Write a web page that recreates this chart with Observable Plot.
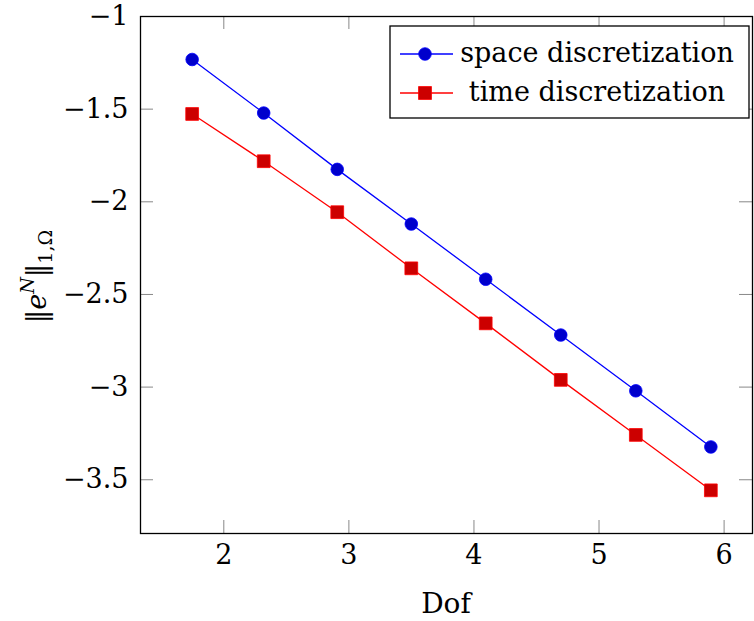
<!DOCTYPE html>
<html>
<head>
<meta charset="utf-8">
<script src="https://cdn.jsdelivr.net/npm/d3@7"></script>
<script src="https://cdn.jsdelivr.net/npm/@observablehq/plot@0.6"></script>
<style>
  html, body { margin: 0; padding: 0; background: #fff; }
  #wrap { position: relative; width: 754px; height: 621px; }
</style>
</head>
<body>
<div id="wrap"></div>
<script>
// ---- data ----
const dof = [1.747, 2.319, 2.907, 3.499, 4.094, 4.694, 5.294, 5.894];
const spaceErr = [-1.232, -1.521, -1.825, -2.120, -2.418, -2.719, -3.020, -3.323];
const timeErr = [-1.526, -1.781, -2.056, -2.359, -2.656, -2.961, -3.258, -3.557];
const seriesNames = ["space discretization", "time discretization"];
const xTicks = [2, 3, 4, 5, 6];
const yTicks = [-1, -1.5, -2, -2.5, -3, -3.5];
const xDomain = [1.334, 6.227];
const yDomain = [-3.79, -1];

const spaceRows = dof.map((x, i) => ({x, y: spaceErr[i]}));
const timeRows = dof.map((x, i) => ({x, y: timeErr[i]}));

const FONT = "DejaVu Serif";
const FS = 27;
const fmt = d => String(d).replace("-", "\u2212");
const W = 754, H = 621;
const mL = 140, mR = 2, mT = 16, mB = 88;
const tickLen = 13;
const yPerPx = (yDomain[1] - yDomain[0]) / (H - mT - mB);
const xPerPx = (xDomain[1] - xDomain[0]) / (W - mL - mR);

const blueLine = "#0000ff", blueFill = "#0000cc";
const redLine = "#ff0000", redFill = "#cc0000";

const chart = Plot.plot({
  width: W, height: H,
  marginLeft: mL, marginRight: mR, marginTop: mT, marginBottom: mB,
  style: {fontFamily: FONT, fontSize: FS + "px", color: "#000", background: "#fff"},
  x: {domain: xDomain},
  y: {domain: yDomain},
  marks: [
    Plot.ruleX(xTicks, {x: d => d, y1: yDomain[0], y2: yDomain[0] + tickLen * yPerPx, stroke: "#888", strokeWidth: 1}),
    Plot.ruleX(xTicks, {x: d => d, y1: yDomain[1], y2: yDomain[1] - tickLen * yPerPx, stroke: "#888", strokeWidth: 1}),
    Plot.ruleY(yTicks, {y: d => d, x1: xDomain[0], x2: xDomain[0] + tickLen * xPerPx, stroke: "#888", strokeWidth: 1}),
    Plot.ruleY(yTicks, {y: d => d, x1: xDomain[1], x2: xDomain[1] - tickLen * xPerPx, stroke: "#888", strokeWidth: 1}),
    Plot.axisX({ticks: xTicks, tickSize: 0, tickPadding: 11, fontSize: FS, fontFamily: FONT, tickFormat: fmt, label: null}),
    Plot.axisY({ticks: yTicks, tickSize: 0, tickPadding: 12, fontSize: FS, fontFamily: FONT, tickFormat: fmt, label: null}),
    Plot.frame({stroke: "#000", strokeWidth: 1.3}),
    Plot.line(spaceRows, {x: "x", y: "y", stroke: blueLine, strokeWidth: 1.3}),
    Plot.line(timeRows, {x: "x", y: "y", stroke: redLine, strokeWidth: 1.3}),
    Plot.dot(spaceRows, {x: "x", y: "y", r: 6.3, fill: blueFill, stroke: blueLine, strokeWidth: 0.8, symbol: "circle"}),
    Plot.dot(timeRows, {x: "x", y: "y", r: 7.2, fill: redFill, stroke: redLine, strokeWidth: 0.8, symbol: "square"})
  ]
});

const svg = d3.select(chart);

svg.append("text")
  .attr("x", mL + (W - mL - mR) / 2).attr("y", 613)
  .attr("text-anchor", "middle")
  .style("font-family", FONT).attr("font-size", 28)
  .text("Dof");

const yl = svg.append("text")
  .attr("transform", `translate(46,${mT + (H - mT - mB) / 2 + 2}) rotate(-90)`)
  .attr("text-anchor", "middle")
  .style("font-family", FONT).attr("font-size", FS);
yl.append("tspan").text("\u2016");
yl.append("tspan").attr("font-style", "italic").text("e");
yl.append("tspan").attr("font-style", "italic").attr("font-size", 19).attr("dy", -12).text("N");
yl.append("tspan").attr("dy", 12).text("\u2016");
yl.append("tspan").attr("font-size", 19).attr("dy", 6).text("1,\u03A9");

const lg = svg.append("g");
const lx = 390, ly = 26, lw = 359, lh = 92;
lg.append("rect").attr("x", lx).attr("y", ly).attr("width", lw).attr("height", lh)
  .attr("fill", "#fff").attr("stroke", "#000").attr("stroke-width", 1.3);
const rows = [
  {name: seriesNames[0], line: blueLine, fill: blueFill, sym: "circle", cy: 54},
  {name: seriesNames[1], line: redLine, fill: redFill, sym: "square", cy: 93}
];
rows.forEach(r => {
  lg.append("line").attr("x1", 400).attr("x2", 453).attr("y1", r.cy).attr("y2", r.cy)
    .attr("stroke", r.line).attr("stroke-width", 1.3);
  if (r.sym === "circle") {
    lg.append("circle").attr("cx", 425).attr("cy", r.cy).attr("r", 6.3)
      .attr("fill", r.fill).attr("stroke", r.line).attr("stroke-width", 0.8);
  } else {
    lg.append("rect").attr("x", 425 - 6.4).attr("y", r.cy - 6.4).attr("width", 12.8).attr("height", 12.8)
      .attr("fill", r.fill).attr("stroke", r.line).attr("stroke-width", 0.8);
  }
  lg.append("text").attr("x", 597).attr("y", r.cy).attr("dy", "0.3em")
    .attr("text-anchor", "middle")
    .style("font-family", FONT).attr("font-size", FS)
    .text(r.name);
});

document.getElementById("wrap").appendChild(chart);
</script>
</body>
</html>
